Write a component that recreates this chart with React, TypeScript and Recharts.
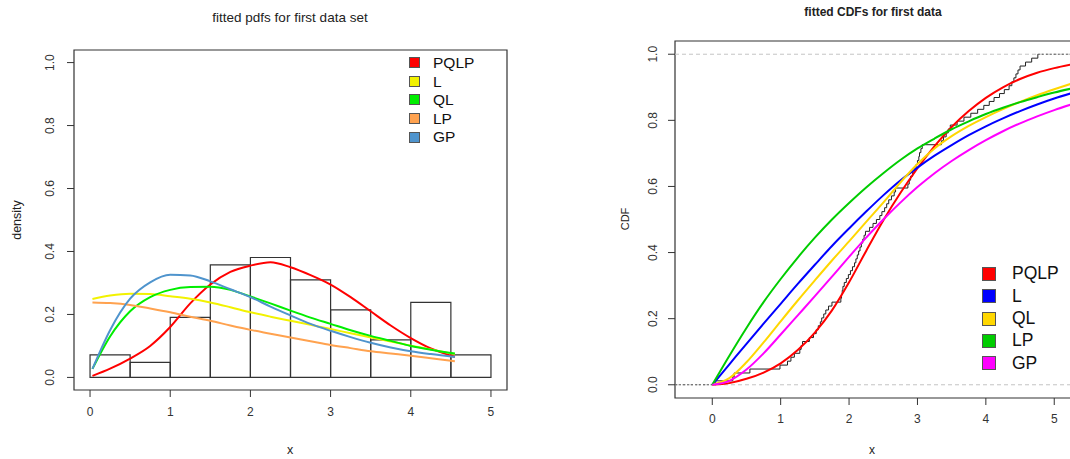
import { ComposedChart, Line, XAxis, YAxis, ReferenceArea, ReferenceLine, Legend } from 'recharts';

const sample = [
  0.05, 0.3, 0.32,
  0.55, 0.99,
  1.1, 1.15, 1.2, 1.28, 1.3, 1.32, 1.42, 1.48,
  1.52, 1.55, 1.58, 1.6, 1.63, 1.66, 1.7, 1.75, 1.88, 1.89, 1.9, 1.91, 1.93, 1.96, 1.99,
  2.02, 2.05, 2.08, 2.1, 2.12, 2.14, 2.16, 2.18, 2.2, 2.22, 2.24, 2.3, 2.35, 2.4, 2.45, 2.48,
  2.52, 2.55, 2.58, 2.62, 2.66, 2.68, 2.86, 2.88, 2.9, 2.93, 2.96, 2.98, 3.0,
  3.02, 3.03, 3.05, 3.07, 3.35, 3.38, 3.42, 3.45, 3.48,
  3.58, 3.68, 3.78, 3.88, 3.97,
  4.05, 4.12, 4.2, 4.27, 4.34, 4.38, 4.41, 4.44, 4.47, 4.5,
  4.58, 4.67, 4.76,
];
const binEdges = [0, 0.5, 1, 1.5, 2, 2.5, 3, 3.5, 4, 4.5, 5];

const modelNames = ['PQLP', 'L', 'QL', 'LP', 'GP'];

// fitted pdfs
const pdfX = [0.03, 0.25, 0.5, 0.75, 1, 1.25, 1.5, 1.75, 2, 2.25, 2.5, 2.75, 3, 3.25, 3.5, 3.75, 4, 4.25, 4.55];
const pdfPQLP = [0.005, 0.028, 0.06, 0.1, 0.16, 0.235, 0.295, 0.335, 0.355, 0.366, 0.35, 0.325, 0.295, 0.255, 0.21, 0.165, 0.125, 0.092, 0.065];
const pdfL = [0.249, 0.26, 0.266, 0.265, 0.258, 0.25, 0.238, 0.223, 0.207, 0.193, 0.18, 0.167, 0.154, 0.14, 0.127, 0.114, 0.101, 0.089, 0.074];
const pdfQL = [0.027, 0.13, 0.21, 0.255, 0.278, 0.287, 0.288, 0.278, 0.257, 0.235, 0.212, 0.19, 0.17, 0.15, 0.132, 0.116, 0.1, 0.088, 0.076];
const pdfLP = [0.238, 0.236, 0.23, 0.219, 0.207, 0.193, 0.18, 0.165, 0.151, 0.139, 0.127, 0.115, 0.103, 0.093, 0.083, 0.076, 0.069, 0.061, 0.051];
const pdfGP = [0.027, 0.15, 0.25, 0.302, 0.326, 0.324, 0.305, 0.28, 0.255, 0.225, 0.197, 0.17, 0.148, 0.128, 0.11, 0.095, 0.083, 0.074, 0.065];

// fitted cdfs
const cdfX = [0, 0.25, 0.5, 0.75, 1, 1.25, 1.5, 1.75, 2, 2.25, 2.5, 2.75, 3, 3.25, 3.5, 3.75, 4, 4.25, 4.5, 4.75, 5, 5.25];
const cdfPQLP = [0, 0.005, 0.018, 0.037, 0.065, 0.105, 0.158, 0.225, 0.31, 0.405, 0.497, 0.58, 0.655, 0.722, 0.78, 0.828, 0.868, 0.9, 0.925, 0.944, 0.958, 0.969];
const cdfL = [0, 0.062, 0.124, 0.185, 0.245, 0.305, 0.363, 0.42, 0.473, 0.524, 0.573, 0.618, 0.657, 0.693, 0.725, 0.755, 0.782, 0.806, 0.828, 0.848, 0.866, 0.882];
const cdfQL = [0, 0.02, 0.068, 0.128, 0.192, 0.255, 0.316, 0.376, 0.434, 0.493, 0.551, 0.612, 0.668, 0.715, 0.752, 0.783, 0.81, 0.834, 0.856, 0.876, 0.894, 0.911];
const cdfLP = [0, 0.088, 0.172, 0.25, 0.32, 0.385, 0.445, 0.5, 0.55, 0.597, 0.64, 0.68, 0.715, 0.745, 0.773, 0.797, 0.819, 0.838, 0.855, 0.87, 0.884, 0.896];
const cdfGP = [0, 0.012, 0.046, 0.095, 0.152, 0.21, 0.268, 0.327, 0.387, 0.445, 0.5, 0.551, 0.598, 0.64, 0.677, 0.71, 0.74, 0.767, 0.791, 0.812, 0.831, 0.848];

const xTicks = [0, 1, 2, 3, 4, 5];
const yTicks = [0, 0.2, 0.4, 0.6, 0.8, 1];

const n = sample.length;
const bins = binEdges.slice(0, -1).map((lo, i) => {
  const hi = binEdges[i + 1];
  const count = sample.filter((v) => v > lo && v <= hi).length;
  return { lo, hi, density: count / (n * (hi - lo)) };
});

const ecdfLine: { x: number; y: number }[] = [{ x: sample[0], y: 0 }];
sample.forEach((v, i) => {
  if (i === n - 1 || sample[i + 1] !== v) ecdfLine.push({ x: v, y: (i + 1) / n });
});

const rows = (xs: number[], ys: number[]) => xs.map((x, i) => ({ x, y: ys[i] }));

const INK = '#333';
const FONT = '"Liberation Sans", Arial, sans-serif';

const RotTick = (props: any) => {
  const { x, y, payload } = props;
  return (
    <g transform={`translate(${x},${y}) rotate(-90)`}>
      <text textAnchor="middle" dy="0.35em" fill={INK} fontSize={12} fontFamily={FONT}>
        {Number(payload.value).toFixed(1)}
      </text>
    </g>
  );
};

// R-style filled-box legend, kept in model order
const boxLegend = (box: number, row: number, gap: number, fontSize: number) => (props: any) => {
  const items = (props.payload || [])
    .filter((p: any) => p.type !== 'none')
    .slice()
    .sort((a: any, b: any) => modelNames.indexOf(a.value) - modelNames.indexOf(b.value));
  return (
    <div style={{ fontFamily: FONT }}>
      {items.map((p: any) => (
        <div key={p.value} style={{ display: 'flex', alignItems: 'center', height: row, fontSize, color: '#111', lineHeight: 1 }}>
          <span
            style={{ width: box, height: box, background: p.color, border: '1px solid #555', boxSizing: 'border-box', marginRight: gap, flex: 'none' }}
          />
          {p.value}
        </div>
      ))}
    </div>
  );
};

const abs = (s: React.CSSProperties): React.CSSProperties => ({ position: 'absolute', whiteSpace: 'nowrap', color: '#222', ...s });

export default function App() {
  const pdfColors = ['#ff0000', '#f2f200', '#00ee00', '#ffa24f', '#4f94cd'];
  const cdfColors = ['#ff0000', '#0000ff', '#ffd700', '#00cd00', '#ff00ff'];
  const pdfData = [pdfPQLP, pdfL, pdfQL, pdfLP, pdfGP];
  const cdfData = [cdfPQLP, cdfL, cdfQL, cdfLP, cdfGP];

  return (
    <div style={{ position: 'fixed', left: 0, top: 0, width: 1070, height: 459, overflow: 'hidden', background: '#fff', fontFamily: FONT }}>
      {/* left: histogram with fitted pdfs */}
      <div style={{ position: 'absolute', left: 0, top: 0 }}>
        <ComposedChart width={540} height={459} margin={{ top: 50, right: 33, bottom: 29, left: 24 }}>
          <XAxis
            type="number"
            dataKey="x"
            domain={[-0.2, 5.2]}
            ticks={xTicks}
            allowDataOverflow
            axisLine={false}
            tickLine={{ stroke: INK }}
            tickSize={7}
            tickMargin={10}
            height={40}
            tick={{ fill: INK, fontSize: 12, fontFamily: FONT }}
          />
          <YAxis
            type="number"
            dataKey="y"
            domain={[-0.04, 1.04]}
            ticks={yTicks}
            allowDataOverflow
            axisLine={false}
            tickLine={{ stroke: INK }}
            tickSize={7}
            tickMargin={17}
            width={50}
            tick={<RotTick />}
          />
          {bins.map((b) => (
            <ReferenceArea key={b.lo} x1={b.lo} x2={b.hi} y1={0} y2={b.density} fill="none" stroke={INK} strokeWidth={1.2} />
          ))}
          <ReferenceArea x1={-0.2} x2={5.2} y1={-0.04} y2={1.04} fill="none" stroke={INK} strokeWidth={1.2} />
          {modelNames.map((name, i) => (
            <Line
              key={name}
              name={name}
              data={rows(pdfX, pdfData[i])}
              dataKey="y"
              type="monotone"
              stroke={pdfColors[i]}
              strokeWidth={2}
              dot={false}
              isAnimationActive={false}
            />
          ))}
          <Legend
            layout="vertical"
            align="center"
            verticalAlign="middle"
            wrapperStyle={{ left: 409, top: 53.5, width: 'auto' }}
            content={boxLegend(11, 18.6, 13, 15.5)}
          />
        </ComposedChart>
        <div style={abs({ left: 290, top: 17, transform: 'translate(-50%,-50%)', fontSize: 13.5 })}>fitted pdfs for first data set</div>
        <div style={abs({ left: 290, top: 450, transform: 'translate(-50%,-50%)', fontSize: 12.5 })}>x</div>
        <div style={abs({ left: 17, top: 220, transform: 'translate(-50%,-50%) rotate(-90deg)', fontSize: 12.5 })}>density</div>
      </div>

      {/* right: empirical vs fitted CDFs */}
      <div style={{ position: 'absolute', left: 540, top: 0 }}>
        <ComposedChart width={560} height={459} margin={{ top: 41, right: 29, bottom: 21, left: 85 }}>
          <XAxis
            type="number"
            dataKey="x"
            domain={[-0.545, 5.245]}
            ticks={xTicks}
            allowDataOverflow
            axisLine={false}
            tickLine={{ stroke: INK }}
            tickSize={7}
            tickMargin={9}
            height={40}
            tick={{ fill: INK, fontSize: 12, fontFamily: FONT }}
          />
          <YAxis
            type="number"
            dataKey="y"
            domain={[-0.04, 1.04]}
            ticks={yTicks}
            allowDataOverflow
            axisLine={false}
            tickLine={{ stroke: INK }}
            tickSize={7}
            tickMargin={15}
            width={50}
            tick={<RotTick />}
          />
          <ReferenceArea x1={-0.545} x2={5.245} y1={-0.04} y2={1.04} fill="none" stroke={INK} strokeWidth={1.2} />
          <ReferenceLine y={0} stroke="#c4c4c4" strokeDasharray="4 3" />
          <ReferenceLine y={1} stroke="#c4c4c4" strokeDasharray="4 3" />
          <ReferenceLine segment={[{ x: -0.545, y: 0 }, { x: sample[0], y: 0 }]} stroke="#555" strokeDasharray="2 2" />
          <ReferenceLine segment={[{ x: sample[n - 1], y: 1 }, { x: 5.245, y: 1 }]} stroke="#555" strokeDasharray="2 2" />
          <Line
            name="ecdf"
            legendType="none"
            data={ecdfLine}
            dataKey="y"
            type="stepAfter"
            stroke="#222"
            strokeWidth={1}
            dot={false}
            isAnimationActive={false}
          />
          {modelNames.map((name, i) => (
            <Line
              key={name}
              name={name}
              data={rows(cdfX, cdfData[i])}
              dataKey="y"
              type="monotone"
              stroke={cdfColors[i]}
              strokeWidth={2}
              dot={false}
              isAnimationActive={false}
            />
          ))}
          <Legend
            layout="vertical"
            align="center"
            verticalAlign="middle"
            wrapperStyle={{ left: 442, top: 263, width: 'auto' }}
            content={boxLegend(14, 22.3, 16, 17.5)}
          />
        </ComposedChart>
        <div style={abs({ left: 333, top: 12, transform: 'translate(-50%,-50%)', fontSize: 12, fontWeight: 'bold' })}>fitted CDFs for first data</div>
        <div style={abs({ left: 332, top: 450, transform: 'translate(-50%,-50%)', fontSize: 12 })}>x</div>
        <div style={abs({ left: 85, top: 219, transform: 'translate(-50%,-50%) rotate(-90deg)', fontSize: 11 })}>CDF</div>
      </div>
    </div>
  );
}
